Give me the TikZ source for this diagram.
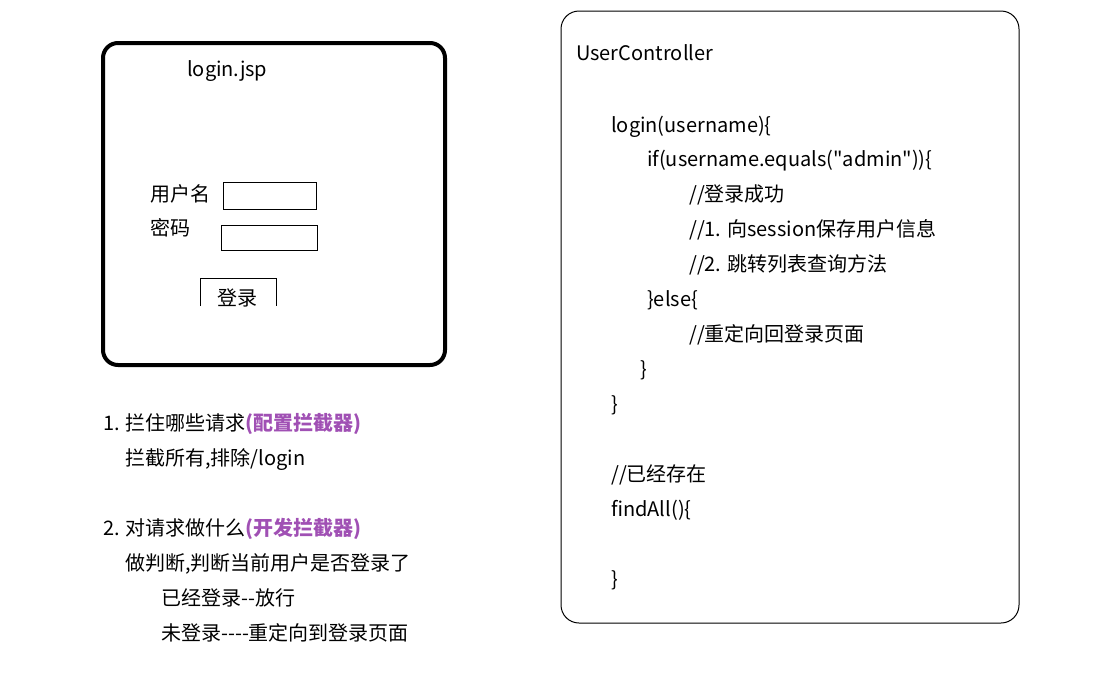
\documentclass[tikz,border=0pt]{standalone}
\usepackage{fontspec}
\setmainfont{Noto Sans CJK SC}[Ligatures=TeXOff]
\usetikzlibrary{positioning}
\definecolor{hint}{RGB}{160,80,180}

\tikzset{
  txt/.style={anchor=west, inner sep=0pt, text height=15pt, text depth=5pt,
    yshift=-2pt, font=\fontsize{20}{22}\selectfont},
  field/.style={draw, line width=1pt, inner sep=0pt, anchor=north west},
  page/.style={draw, line width=4pt, rounded corners=15pt},
  ctrl/.style={draw, line width=1pt, rounded corners=18pt}
}

\begin{document}
\begin{tikzpicture}[x=1pt, y=-1pt]

  \useasboundingbox (0,0) rectangle (1099,678);

  \newcommand\LA{103};
  \newcommand\LB{125};
  \newcommand\LC{161};
  \newcommand\CA{576};
  \newcommand\CB{611};
  \newcommand\CC{647};
  \newcommand\CD{689};

  % login page
  \draw[page] (103,43) rectangle (445,365);
  \node[txt] (jsp) at (187,69) {login.jsp};

  \node[txt] (uname) at (150,194) {用户名};
  \node[field, minimum width=93pt, minimum height=27pt] (ubox) at (223,182) {};
  \node[txt] (pwd) at (150,228) {密码};
  \node[field, minimum width=96pt, minimum height=25pt] (pbox) at (221,225) {};

  \draw[line width=1pt] (200,306) -- (200,278) -- (276,278) -- (276,306);
  \begin{scope}
    \clip (200,278) rectangle (276,306);
    \node[txt, anchor=center] (btn) at (237,298) {登录};
  \end{scope}

  % notes
  \node[txt] (q1) at (\LA,423) {1. 拦住哪些请求\textcolor{hint}{\textbf{(配置拦截器)}}};
  \node[txt] (a1) at (\LB,458) {拦截所有,排除/login};
  \node[txt] (q2) at (\LA,528) {2. 对请求做什么\textcolor{hint}{\textbf{(开发拦截器)}}};
  \node[txt] (a2) at (\LB,563) {做判断,判断当前用户是否登录了};
  \node[txt] (a3) at (\LC,598) {已经登录--放行};
  \node[txt] (a4) at (\LC,633) {未登录----重定向到登录页面};

  % controller
  \draw[ctrl] (561,11) rectangle (1019,623);
  \node[txt] (uc) at (\CA,53) {UserController};
  \node[txt] (lg) at (\CB,125) {login(username)\{};
  \node[txt] (ifc) at (\CC,159) {if(username.equals("admin"))\{};
  \node[txt] (c1) at (\CD,194) {//登录成功};
  \node[txt] (c2) at (\CD,229) {//1. 向session保存用户信息};
  \node[txt] (c3) at (\CD,264) {//2. 跳转列表查询方法};
  \node[txt] (els) at (\CC,299) {\}else\{};
  \node[txt] (c4) at (\CD,334) {//重定向回登录页面};
  \node[txt] (e1) at (640,369) {\}};
  \node[txt] (e2) at (\CB,404) {\}};
  \node[txt] (c5) at (\CB,474) {//已经存在};
  \node[txt] (fa) at (\CB,509) {findAll()\{};
  \node[txt] (e3) at (\CB,579) {\}};

\end{tikzpicture}
\end{document}
